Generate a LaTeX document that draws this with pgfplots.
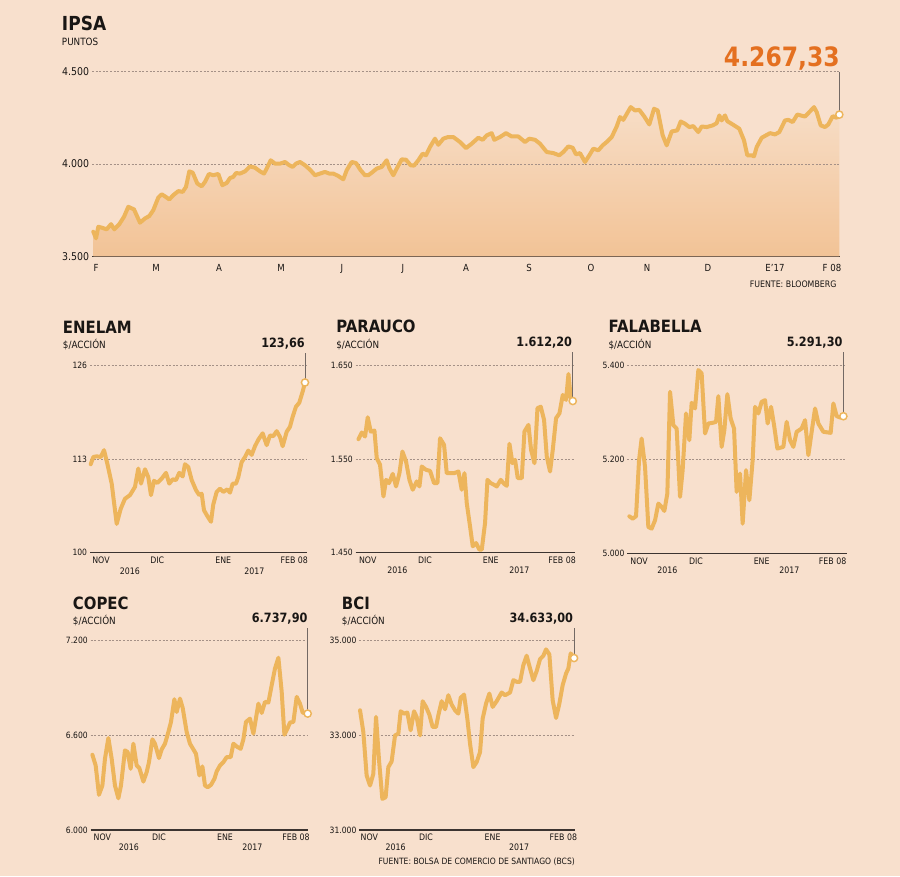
\documentclass[border=0pt]{standalone}
\usepackage{pgfplots}
\pgfplotsset{compat=1.18}
\usepackage{fontspec}
\setmainfont{DejaVu Sans}[FakeStretch=0.88]
\definecolor{bgcol}{RGB}{248,224,205}
\definecolor{linecol}{RGB}{237,181,92}
\definecolor{filltop}{RGB}{247,221,198}
\definecolor{fillbot}{RGB}{242,195,150}
\definecolor{gridcol}{RGB}{165,145,135}
\definecolor{axiscol}{RGB}{60,52,48}
\definecolor{orangecol}{RGB}{228,112,32}
\definecolor{conncol}{RGB}{115,105,100}
\definecolor{textcol}{RGB}{25,22,20}
\newcommand\fs[1]{\fontsize{#1}{#1}\selectfont}
\tikzset{conn/.style={draw=conncol, line width=0.6pt},
  gridl/.style={draw=gridcol, line width=0.5pt, dash pattern=on 1.5pt off 1.2pt}}
\pgfplotsset{
  base/.style={
    scale only axis, anchor=south west, clip=false, xmin=0,
    axis lines=left, axis line style={-},
    x axis line style={draw=axiscol, line width=0.8pt},
    y axis line style={draw=none},
    major tick length=0pt, scaled y ticks=false, scaled x ticks=false,
    ymajorgrids, grid style={gridl},
    yticklabel style={anchor=east, inner sep=0pt, xshift=-2pt, text=textcol},
    xticklabel style={anchor=base, inner sep=0pt, text=textcol},
  },
  small/.style={base, width=163pt,
    yticklabel style={font=\fs{6.5}},
    xticklabel style={font=\fs{6.7}, yshift=-8pt},
    xticklabels={NOV,DIC,ENE,FEB 08}},
  ser/.style={draw=linecol, line width=3pt, line join=round, line cap=round, no markers},
  endmark/.style={only marks, mark=*, mark size=2.7pt, mark options={fill=white, draw=linecol, line width=1.1pt}},
}
\begin{document}
\begin{tikzpicture}
\fill[bgcol] (0,0) rectangle (675pt,-657pt);

% ---------------- IPSA ----------------
\begin{axis}[base, at={(69pt,-192.2pt)}, width=561pt, height=138.45pt,
  xmax=748, ymin=3500, ymax=4500,
  ytick={3500,4000,4500}, yticklabels={3.500,4.000,4.500},
  xtick={4,64,127,189,250,311,374,437,499,555,616,683,740},
  xticklabels={F,M,A,M,J,J,A,S,O,N,D,E'17,F 08},
  xticklabel style={font=\fs{7.3}, yshift=-11.5pt},
  yticklabel style={font=\fs{8}}]
\addplot[draw=none, top color=filltop, bottom color=fillbot] coordinates {
(1.3,3633)(4,3597)(6.3,3660)(9.7,3655)(14.7,3646)(19,3674)(22.3,3646)(27.3,3674)(32,3714)(36.3,3768)
(42,3754)(48,3682)(53,3705)(57.3,3718)(61.3,3750)(66.3,3818)(69.7,3836)(73.7,3822)(77.3,3808)(81.3,3831)
(86.3,3853)(90.7,3849)(94,3876)(97.3,3960)(100.7,3953)(105.3,3894)(109.7,3879)(113,3903)(117,3946)(121.3,3939)
(126.3,3946)(130.3,3885)(134.7,3897)(138,3924)(141.3,3930)(144,3951)(148,3948)(153,3960)(158,3987)(163,3980)
(168,3960)(172,3948)(174.7,3975)(178.7,4020)(183,4002)(188,4002)(193,4011)(197.3,3993)(200.7,3984)(204,4002)
(208,4011)(213,3993)(218,3969)(223,3939)(228,3948)(233,3957)(237.3,3948)(241.3,3948)(246.3,3935)(251.3,3917)
(254.7,3966)(259.7,4011)(264,4005)(268.7,3966)(273,3939)(276.3,3939)(280.7,3957)(284.7,3975)(289.7,3984)(294.7,4020)
(297.3,3978)(301.3,3939)(304.7,3975)(309.7,4025)(314,4023)(318.7,3993)(322,3991)(326.3,4020)(330.7,4056)(334,4047)
(338,4092)(343,4137)(346.3,4104)(351.3,4137)(356,4146)(361.3,4146)(368,4119)(374,4086)(379.7,4110)(386.3,4142)
(390.7,4131)(394.7,4155)(399.7,4167)(402.3,4131)(408,4146)(414,4167)(419.7,4149)(426.3,4149)(433,4119)(437.3,4137)
(443,4131)(448,4110)(454.7,4065)(461.3,4059)(467.3,4047)(471.3,4065)(476.3,4095)(480.7,4088)(484,4052)(488,4059)
(493,4011)(497.3,4047)(501.3,4083)(506.3,4074)(510.7,4101)(514.7,4119)(519.7,4146)(524.7,4203)(528,4254)(531.3,4239)
(538.7,4308)(543,4290)(547.3,4293)(552.3,4257)(557.3,4214)(562,4299)(565.7,4290)(570.7,4155)(574.7,4101)(579.7,4176)
(585.3,4182)(588.7,4230)(593,4218)(597.3,4200)(601.3,4205)(606.3,4173)(609.7,4203)(614.7,4200)(620.7,4209)(624.7,4221)
(627.3,4263)(629.7,4236)(633,4263)(635.3,4232)(641.3,4212)(647.3,4191)(652,4128)(655.3,4047)(659.7,4047)(662,4041)
(664.7,4092)(669.7,4142)(674,4155)(678,4167)(683,4160)(687.3,4173)(693,4236)(696.3,4239)(700.7,4227)(705.3,4268)
(708.7,4263)(713,4257)(717.3,4281)(722,4308)(724.7,4281)(728.7,4209)(733,4200)(736.3,4214)(740.7,4259)(744.7,4250)
(747.3,4267.33)} \closedcycle;
\draw[gridl] (axis cs:0,4000) -- (axis cs:748,4000);
\addplot[ser] coordinates {
(1.3,3633)(4,3597)(6.3,3660)(9.7,3655)(14.7,3646)(19,3674)(22.3,3646)(27.3,3674)(32,3714)(36.3,3768)
(42,3754)(48,3682)(53,3705)(57.3,3718)(61.3,3750)(66.3,3818)(69.7,3836)(73.7,3822)(77.3,3808)(81.3,3831)
(86.3,3853)(90.7,3849)(94,3876)(97.3,3960)(100.7,3953)(105.3,3894)(109.7,3879)(113,3903)(117,3946)(121.3,3939)
(126.3,3946)(130.3,3885)(134.7,3897)(138,3924)(141.3,3930)(144,3951)(148,3948)(153,3960)(158,3987)(163,3980)
(168,3960)(172,3948)(174.7,3975)(178.7,4020)(183,4002)(188,4002)(193,4011)(197.3,3993)(200.7,3984)(204,4002)
(208,4011)(213,3993)(218,3969)(223,3939)(228,3948)(233,3957)(237.3,3948)(241.3,3948)(246.3,3935)(251.3,3917)
(254.7,3966)(259.7,4011)(264,4005)(268.7,3966)(273,3939)(276.3,3939)(280.7,3957)(284.7,3975)(289.7,3984)(294.7,4020)
(297.3,3978)(301.3,3939)(304.7,3975)(309.7,4025)(314,4023)(318.7,3993)(322,3991)(326.3,4020)(330.7,4056)(334,4047)
(338,4092)(343,4137)(346.3,4104)(351.3,4137)(356,4146)(361.3,4146)(368,4119)(374,4086)(379.7,4110)(386.3,4142)
(390.7,4131)(394.7,4155)(399.7,4167)(402.3,4131)(408,4146)(414,4167)(419.7,4149)(426.3,4149)(433,4119)(437.3,4137)
(443,4131)(448,4110)(454.7,4065)(461.3,4059)(467.3,4047)(471.3,4065)(476.3,4095)(480.7,4088)(484,4052)(488,4059)
(493,4011)(497.3,4047)(501.3,4083)(506.3,4074)(510.7,4101)(514.7,4119)(519.7,4146)(524.7,4203)(528,4254)(531.3,4239)
(538.7,4308)(543,4290)(547.3,4293)(552.3,4257)(557.3,4214)(562,4299)(565.7,4290)(570.7,4155)(574.7,4101)(579.7,4176)
(585.3,4182)(588.7,4230)(593,4218)(597.3,4200)(601.3,4205)(606.3,4173)(609.7,4203)(614.7,4200)(620.7,4209)(624.7,4221)
(627.3,4263)(629.7,4236)(633,4263)(635.3,4232)(641.3,4212)(647.3,4191)(652,4128)(655.3,4047)(659.7,4047)(662,4041)
(664.7,4092)(669.7,4142)(674,4155)(678,4167)(683,4160)(687.3,4173)(693,4236)(696.3,4239)(700.7,4227)(705.3,4268)
(708.7,4263)(713,4257)(717.3,4281)(722,4308)(724.7,4281)(728.7,4209)(733,4200)(736.3,4214)(740.7,4259)(744.7,4250)
(747.3,4267.33)};
\draw[conn] (axis cs:747.3,4267.33) -- (axis cs:747.3,4500);
\addplot[endmark] coordinates {(747.3,4267.33)};
\end{axis}

% ---------------- ENELAM ----------------
\begin{axis}[small, at={(67.5pt,-414.5pt)}, width=162.5pt, height=140.25pt,
  xmax=216.7, ymin=100, ymax=126, ytick={100,113,126}, yticklabels={100,113,126},
  xtick={11,67.3,133.3,204.3}]
\addplot[ser] coordinates {
(0.7,112.3)(3.3,113.3)(6.7,113.4)(10.7,113.3)(14,114.25)(17.3,112.4)(21.7,109.6)(26.7,104.0)(30.7,106.1)(35,107.5)
(40,108.0)(45,109.15)(48.3,111.7)(51,109.6)(55,111.6)(58.3,110.5)(61,108.0)(64,110.0)(67.3,109.7)(71.7,110.3)
(76,111.1)(79.3,109.6)(82.7,110.2)(86,110.1)(89.3,111.1)(92.7,110.6)(95,112.3)(98.3,111.9)(101.7,110.1)(106,108.7)
(109.3,108.0)(111.7,108.2)(114,105.9)(117.3,105.1)(121,104.3)(123.3,106.7)(126.7,108.45)(130,108.9)(133.3,108.45)(137.3,108.8)
(140,108.35)(142.7,109.6)(146,109.6)(148.3,110.5)(151.7,112.6)(155,113.3)(158.3,114.2)(161.7,113.6)(165,114.8)(168.3,115.7)
(172.7,116.6)(176.7,114.95)(180,116.3)(183.3,116.2)(186.7,116.9)(190,116.1)(192.7,114.8)(196.7,116.8)(200,117.5)(202.7,118.9)
(206,120.3)(209.3,120.85)(212.7,122.4)(215,123.66)};
\draw[conn] (axis cs:215,123.66) -- (axis cs:215,127.8);
\addplot[endmark] coordinates {(215,123.66)};
\end{axis}

% ---------------- PARAUCO ----------------
\begin{axis}[small, at={(266.8pt,-414.5pt)}, width=164.5pt, height=140.25pt,
  xmax=219.3, ymin=1450, ymax=1650, ytick={1450,1550,1650}, yticklabels={1.450,1.550,1.650},
  xtick={12,69.3,135,206.3}]
\addplot[ser] coordinates {
(2.7,1571.4)(6,1578.5)(9.3,1574.2)(12,1594.8)(15,1579.5)(18.7,1580.6)(21,1551.1)(24.3,1544)(27.7,1510.1)(30.3,1527.9)
(33.3,1524.4)(37,1534.3)(40.3,1520.8)(43.7,1535)(46.7,1558.2)(50.3,1547.5)(53.7,1527.9)(57,1517.3)(61,1526.2)(63.7,1520.8)
(66,1542.2)(70.3,1538.6)(74.3,1537.5)(78.3,1524.4)(81.7,1524.4)(84.3,1572.4)(88.3,1565.3)(91,1535)(95,1535)(98.3,1535)
(102.7,1536.8)(106,1517.3)(108.7,1535)(111,1503)(114.3,1478.1)(117,1456.8)(120.3,1460.3)(123.7,1453.2)(126,1453.2)(129.3,1481.7)
(131.7,1527.9)(135,1524.4)(138.3,1522.6)(141,1520.8)(145,1527.9)(148.3,1523.7)(151,1521.5)(153.7,1566.4)(156.7,1545.7)(159.3,1549.3)
(162,1529.7)(166,1529.7)(168.7,1579.5)(172.7,1586.7)(175.3,1560)(178.7,1545.7)(181.7,1604.5)(185,1606.2)(188.3,1592)(191,1552.8)
(194.3,1536.8)(197,1560)(200.3,1593.8)(203.7,1599.1)(207,1618.7)(210.3,1613.4)(212.7,1641.1)(215,1615.1)(217,1612.2)};
\draw[conn] (axis cs:217,1612.2) -- (axis cs:217,1665);
\addplot[endmark] coordinates {(217,1612.2)};
\end{axis}

% ---------------- FALABELLA ----------------
\begin{axis}[small, at={(470.5pt,-415pt)}, width=164.5pt, height=141.2pt,
  xmax=219.3, ymin=5000, ymax=5400, ytick={5000,5200,5400}, yticklabels={5.000,5.200,5.400},
  xtick={11.7,68.7,134.3,205.3}]
\addplot[ser] coordinates {
(2,5078.7)(5.3,5073.8)(8.7,5078.7)(11.7,5197.9)(14.3,5244)(17.7,5183.7)(21,5056)(24.3,5052.5)(27.7,5070.2)(31,5105.7)
(34.3,5098.6)(37,5090.1)(40,5127)(42.7,5343.3)(46,5272.3)(49.3,5265.2)(52.7,5119.9)(55.3,5176.6)(58.7,5297.2)(62,5240.4)
(64.3,5319.9)(67.7,5307.8)(71,5389.4)(74.3,5382.3)(77.7,5254.6)(81,5275.9)(85.3,5277.3)(88.7,5279.4)(91,5334)(94.3,5226.2)
(97,5261.7)(100,5338.3)(103.3,5286.5)(106.7,5265.2)(109.3,5130.5)(112.7,5169.5)(115.3,5063.1)(118.7,5176.6)(122,5112.8)(125.3,5197.9)
(127.7,5311.3)(131,5297.2)(134.3,5322)(137.7,5325.5)(140.3,5275.9)(143.7,5311.3)(146.7,5272.3)(150,5222.7)(156,5226.2)(159.3,5279.4)
(162.7,5240.4)(166,5226.2)(169.3,5258.2)(174.3,5265.2)(177.7,5283)(181,5208.5)(184.3,5258.2)(187.7,5307.8)(191,5275.9)(196,5258.2)
(203.3,5256)(206,5318.4)(209.3,5291.5)(212.7,5288.7)(216,5291.3)};
\draw[conn] (axis cs:216,5291.3) -- (axis cs:216,5427.7);
\addplot[endmark] coordinates {(216,5291.3)};
\end{axis}

% ---------------- COPEC ----------------
\begin{axis}[small, at={(68pt,-622.5pt)}, width=163.3pt, height=142pt,
  xmax=217.7, ymin=6000, ymax=7200, ytick={6000,6600,7200}, yticklabels={6.000,6.600,7.200},
  xtick={11.7,68.3,134.3,205.3}]
\addplot[ser] coordinates {
(1.7,6477)(5,6409)(8.3,6223)(11.7,6282)(14.3,6452)(17.7,6583)(21,6452)(24.3,6282)(27.7,6201)(30.3,6282)
(34.3,6505)(37,6494)(40,6388)(42.7,6547)(46,6409)(48.7,6392)(52.7,6307)(56,6367)(58.3,6430)(61.7,6575)
(64.3,6547)(68.3,6456)(71,6511)(74.3,6547)(77.7,6621)(80.3,6685)(83.7,6829)(86,6748)(89.3,6833)(92,6774)
(96,6621)(99.3,6547)(102.7,6511)(105.3,6483)(108.7,6346)(111.7,6403)(114.3,6282)(117,6271)(120.3,6286)(123.7,6324)
(126,6371)(129.3,6409)(132.7,6430)(136,6462)(140,6462)(142.7,6547)(146.7,6526)(150,6515)(152.7,6575)(155.3,6685)
(159.3,6706)(162.7,6611)(167.7,6801)(171,6742)(174.3,6812)(177.7,6808)(181,6918)(184.3,7024)(187.7,7092)(191,6876)
(193.7,6604)(196.7,6642)(199.3,6681)(202.7,6685)(206,6844)(209.3,6801)(212,6744)(217,6737.9)};
\draw[conn] (axis cs:217,6737.9) -- (axis cs:217,7279);
\addplot[endmark] coordinates {(217,6737.9)};
\end{axis}

% ---------------- BCI ----------------
\begin{axis}[small, at={(269.5pt,-622.5pt)}, width=161.8pt, height=142pt,
  xmax=215.7, ymin=31000, ymax=35000, ytick={31000,33000,35000}, yticklabels={31.000,33.000,35.000},
  xtick={10,66.7,133.3,204}]
\addplot[ser] coordinates {
(0.7,33530)(4,33071)(7.3,32152)(10.7,31940)(14,32187)(16.7,33389)(19.7,32470)(23,31657)(26.3,31693)(29,32329)
(32.3,32449)(35.7,33000)(39,33035)(41.3,33509)(44.7,33459)(48,33481)(51.3,33106)(54.7,33509)(57.3,33389)(60.7,33000)
(63.3,33721)(66.7,33601)(70,33438)(73.3,33177)(76.7,33177)(79,33424)(82.3,33721)(85.7,33551)(89,33848)(92.3,33650)
(95.7,33530)(99,33459)(101.3,33791)(104.7,33862)(108,33353)(110.7,32823)(114,32329)(117.3,32435)(120.7,32647)(123.3,33353)
(126.7,33671)(130,33883)(133.3,33601)(137.3,33721)(142.3,33905)(145.7,33848)(150.7,33905)(154,34166)(157.3,34131)(160.7,34131)
(164,34484)(167.3,34682)(170.7,34413)(174,34166)(177.3,34357)(180.7,34611)(184,34682)(186.7,34816)(190,34710)(193.3,33742)
(196.7,33367)(200,33671)(203.3,34060)(206.7,34307)(209,34413)(211.3,34731)(214.7,34633)};
\draw[conn] (axis cs:214.7,34633) -- (axis cs:214.7,35263);
\addplot[endmark] coordinates {(214.7,34633)};
\end{axis}

% ---------------- texts ----------------
\begin{scope}[x=0.75pt,y=-0.75pt, every node/.style={inner sep=0pt, text=textcol}]
\node[anchor=base west, font=\bfseries\fs{14.5}] at (61.7,30) {IPSA};
\node[anchor=base west, font=\fs{7.5}] at (61.7,45) {PUNTOS};
\node[anchor=base east, font=\bfseries\fs{20}, text=orangecol] at (840,66) {4.267,33};
\node[anchor=base east, font=\fs{6.7}] at (836.7,287.3) {FUENTE: BLOOMBERG};

\node[anchor=base west, font=\bfseries\fs{12.7}] at (62.7,333.3) {ENELAM};
\node[anchor=base west, font=\fs{7.5}] at (62.7,348) {\$/ACCIÓN};
\node[anchor=base east, font=\bfseries\fs{9.6}] at (305,347.3) {123,66};

\node[anchor=base west, font=\bfseries\fs{12.7}] at (336,332.7) {PARAUCO};
\node[anchor=base west, font=\fs{7.5}] at (336,348) {\$/ACCIÓN};
\node[anchor=base east, font=\bfseries\fs{9.6}] at (572.3,346.7) {1.612,20};

\node[anchor=base west, font=\bfseries\fs{12.7}] at (608.3,332.7) {FALABELLA};
\node[anchor=base west, font=\fs{7.5}] at (608.3,348) {\$/ACCIÓN};
\node[anchor=base east, font=\bfseries\fs{9.6}] at (842.7,346.7) {5.291,30};

\node[anchor=base west, font=\bfseries\fs{12.7}] at (72.7,609) {COPEC};
\node[anchor=base west, font=\fs{7.5}] at (72.7,624) {\$/ACCIÓN};
\node[anchor=base east, font=\bfseries\fs{9.6}] at (307.7,622.7) {6.737,90};

\node[anchor=base west, font=\bfseries\fs{12.7}] at (341.7,609) {BCI};
\node[anchor=base west, font=\fs{7.5}] at (341.7,624) {\$/ACCIÓN};
\node[anchor=base east, font=\bfseries\fs{9.6}] at (573.3,622.3) {34.633,00};

\node[anchor=base, font=\fs{6.7}] at (130,574.3) {2016};
\node[anchor=base, font=\fs{6.7}] at (254.3,574.3) {2017};
\node[anchor=base, font=\fs{6.7}] at (397.3,573.8) {2016};
\node[anchor=base, font=\fs{6.7}] at (519.3,573.8) {2017};
\node[anchor=base, font=\fs{6.7}] at (667.3,573.8) {2016};
\node[anchor=base, font=\fs{6.7}] at (789.3,573.8) {2017};
\node[anchor=base, font=\fs{6.7}] at (129,850) {2016};
\node[anchor=base, font=\fs{6.7}] at (252.3,850) {2017};
\node[anchor=base, font=\fs{6.7}] at (395.7,850) {2016};
\node[anchor=base, font=\fs{6.7}] at (519,850) {2017};
\node[anchor=base west, font=\fs{6.5}] at (378.3,864.3) {FUENTE: BOLSA DE COMERCIO DE SANTIAGO (BCS)};
\end{scope}
\pgfresetboundingbox
\path[use as bounding box] (0,0) rectangle (675pt,-657pt);
\end{tikzpicture}
\end{document}
